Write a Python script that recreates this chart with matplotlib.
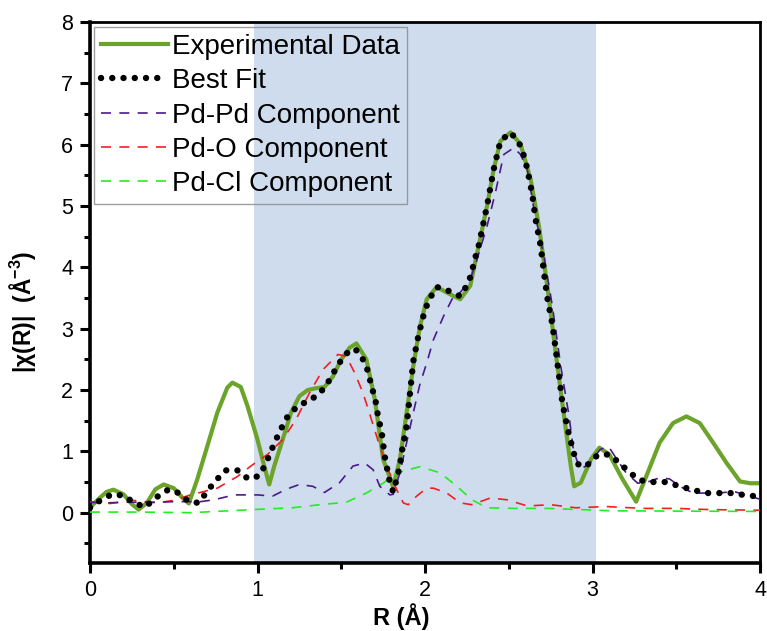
import numpy as np
import matplotlib
matplotlib.use("Agg")
import matplotlib.pyplot as plt
from matplotlib.ticker import MultipleLocator

plt.rcParams['font.family'] = ['Liberation Sans', 'DejaVu Sans']
plt.rcParams['mathtext.fontset'] = 'custom'
plt.rcParams['mathtext.rm'] = 'Liberation Sans'
plt.rcParams['mathtext.bf'] = 'Liberation Sans:bold'
plt.rcParams['mathtext.default'] = 'bf'

# |chi(R)| magnitudes
R_exp = [0.00, 0.05, 0.10, 0.14, 0.20, 0.25, 0.29, 0.34, 0.39, 0.44, 0.50, 0.55, 0.59,
         0.64, 0.70, 0.76, 0.82, 0.85, 0.90, 0.94, 1.00, 1.04, 1.07, 1.10, 1.15, 1.20,
         1.25, 1.30, 1.35, 1.40, 1.45, 1.50, 1.55, 1.59, 1.65, 1.70, 1.75, 1.81, 1.85,
         1.89, 1.93, 1.97, 2.01, 2.07, 2.15, 2.21, 2.27, 2.32, 2.37, 2.41, 2.45, 2.51,
         2.57, 2.63, 2.68, 2.73, 2.78, 2.83, 2.87, 2.89, 2.93, 2.99, 3.04, 3.10, 3.18,
         3.26, 3.32, 3.40, 3.48, 3.56, 3.64, 3.72, 3.80, 3.88, 3.94, 4.00]
chi_exp = [0.08, 0.22, 0.34, 0.375, 0.30, 0.14, 0.05, 0.16, 0.38, 0.46, 0.40, 0.25, 0.15,
           0.54, 1.08, 1.63, 2.04, 2.12, 2.05, 1.74, 1.19, 0.76, 0.46, 0.76, 1.19, 1.63,
           1.90, 2.00, 2.03, 2.05, 2.22, 2.50, 2.69, 2.76, 2.50, 1.85, 0.87, 0.42, 0.87,
           1.63, 2.39, 3.04, 3.48, 3.68, 3.56, 3.48, 3.70, 4.35, 5.00, 5.60, 6.06, 6.20,
           6.01, 5.44, 4.67, 3.69, 2.61, 1.57, 0.76, 0.43, 0.49, 0.87, 1.06, 0.95, 0.54,
           0.18, 0.59, 1.14, 1.46, 1.57, 1.46, 1.14, 0.81, 0.51, 0.48, 0.48]

R_fit = [0.00, 0.05, 0.13, 0.20, 0.265, 0.33, 0.39, 0.47, 0.53, 0.59, 0.65, 0.70, 0.75,
         0.81, 0.88, 0.945, 1.01, 1.05, 1.08, 1.11, 1.145, 1.18, 1.24, 1.31, 1.37, 1.42,
         1.46, 1.50, 1.55, 1.58, 1.61, 1.65, 1.67, 1.69, 1.71, 1.72, 1.74, 1.75, 1.76,
         1.775, 1.79, 1.81, 1.83, 1.85, 1.86, 1.875, 1.89, 1.93, 1.96, 1.98, 2.00, 2.03,
         2.07, 2.13, 2.21, 2.26, 2.28, 2.30, 2.32, 2.37, 2.41, 2.45, 2.51, 2.56, 2.59,
         2.61, 2.64, 2.66, 2.69, 2.71, 2.73, 2.76, 2.78, 2.80, 2.82, 2.85, 2.87, 2.89,
         2.92, 2.97, 3.03, 3.10, 3.16, 3.22, 3.28, 3.36, 3.44, 3.52, 3.59, 3.67, 3.75,
         3.83, 3.90, 4.00]
chi_fit = [0.08, 0.18, 0.30, 0.28, 0.16, 0.09, 0.24, 0.38, 0.32, 0.18, 0.16, 0.35, 0.52,
           0.69, 0.69, 0.55, 0.60, 0.80, 1.00, 1.19, 1.39, 1.57, 1.74, 1.83, 1.94, 2.12,
           2.31, 2.49, 2.65, 2.67, 2.60, 2.39, 2.18, 1.97, 1.76, 1.55, 1.34, 1.12, 0.91,
           0.70, 0.49, 0.34, 0.54, 0.76, 0.97, 1.19, 1.41, 2.47, 2.88, 3.10, 3.31, 3.50,
           3.68, 3.63, 3.53, 3.75, 3.94, 4.16, 4.35, 5.00, 5.60, 6.06, 6.20, 6.04, 5.82,
           5.61, 5.19, 4.78, 4.35, 3.91, 3.50, 3.07, 2.66, 2.23, 1.79, 1.38, 1.16, 0.95,
           0.76, 0.78, 0.94, 0.95, 0.81, 0.66, 0.53, 0.50, 0.50, 0.43, 0.38, 0.32, 0.32,
           0.32, 0.29, 0.26]

R_pdpd = [0.00, 0.10, 0.20, 0.30, 0.40, 0.50, 0.60, 0.66, 0.74, 0.86, 1.00, 1.09, 1.17,
          1.25, 1.33, 1.40, 1.49, 1.57, 1.64, 1.69, 1.73, 1.79, 1.81, 1.85, 1.89, 1.93,
          1.97, 2.01, 2.05, 2.11, 2.17, 2.21, 2.27, 2.31, 2.37, 2.42, 2.47, 2.53, 2.57,
          2.61, 2.65, 2.71, 2.76, 2.81, 2.86, 2.885, 2.925, 2.985, 3.045, 3.095, 3.145,
          3.20, 3.27, 3.34, 3.40, 3.46, 3.52, 3.60, 3.68, 3.76, 3.84, 3.92, 4.00]
chi_pdpd = [0.17, 0.16, 0.17, 0.17, 0.17, 0.18, 0.18, 0.18, 0.21, 0.29, 0.29, 0.27, 0.38,
            0.46, 0.43, 0.33, 0.49, 0.76, 0.81, 0.70, 0.43, 0.29, 0.30, 0.65, 1.14, 1.63,
            2.10, 2.44, 2.82, 3.20, 3.53, 3.59, 3.80, 4.13, 4.67, 5.22, 5.84, 5.95, 5.84,
            5.60, 4.95, 4.18, 3.37, 2.39, 1.57, 1.03, 0.70, 0.81, 1.03, 1.08, 0.87,
            0.65, 0.48, 0.51, 0.57, 0.55, 0.43, 0.32, 0.32, 0.32, 0.35, 0.28, 0.22]

R_pdo = [0.00, 0.12, 0.26, 0.40, 0.50, 0.60, 0.76, 0.88, 0.96, 1.06, 1.15, 1.23, 1.31,
         1.39, 1.48, 1.53, 1.58, 1.63, 1.68, 1.73, 1.78, 1.83, 1.87, 1.90, 1.95, 2.01,
         2.05, 2.13, 2.21, 2.28, 2.39, 2.49, 2.61, 2.75, 2.90, 3.08, 3.30, 3.50, 3.70, 4.00]
chi_pdo = [0.18, 0.15, 0.20, 0.16, 0.20, 0.29, 0.40, 0.59, 0.76, 0.95, 1.19, 1.52, 1.95,
           2.33, 2.58, 2.55, 2.28, 1.95, 1.52, 1.08, 0.70, 0.38, 0.16, 0.13, 0.27, 0.40,
           0.40, 0.32, 0.16, 0.13, 0.24, 0.21, 0.11, 0.13, 0.08, 0.10, 0.07, 0.07, 0.05, 0.04]

R_pdcl = [0.00, 0.30, 0.60, 0.97, 1.21, 1.37, 1.53, 1.65, 1.75, 1.83, 1.97, 2.09, 2.19,
          2.28, 2.37, 2.53, 2.73, 2.93, 3.12, 4.00]
chi_pdcl = [0.01, 0.01, 0.00, 0.05, 0.08, 0.13, 0.17, 0.32, 0.48, 0.65, 0.75, 0.65, 0.43,
            0.21, 0.08, 0.07, 0.07, 0.05, 0.03, 0.02]

fit_window = (0.98, 3.02)

fig = plt.figure(figsize=(7.67, 6.31), dpi=100)
ax = fig.add_axes([0.1173, 0.1078, 0.8737, 0.8573])

ax.axvspan(*fit_window, color='#cfdcee', lw=0, zorder=0)

ax.plot(R_exp, chi_exp, color='#6ba32b', lw=3.0, label='Experimental Data', zorder=2)
ax.plot(R_fit, chi_fit, color='black', lw=4.6, ls=(0, (0.01, 1.75)),
        dash_capstyle='round', label='Best Fit', zorder=5)
ax.plot(R_pdpd, chi_pdpd, color='#4b1a8a', lw=1.2, ls=(0, (6, 5)),
        label='Pd-Pd Component', zorder=4)
ax.plot(R_pdo, chi_pdo, color='#f02020', lw=1.2, ls=(0, (6, 5)),
        label='Pd-O Component', zorder=3)
ax.plot(R_pdcl, chi_pdcl, color='#22ee22', lw=1.2, ls=(0, (6, 5)),
        label='Pd-Cl Component', zorder=3)

ax.set_xlim(0, 4)
ax.set_ylim(-0.82, 8)
ax.xaxis.set_major_locator(MultipleLocator(1))
ax.xaxis.set_minor_locator(MultipleLocator(0.5))
ax.yaxis.set_major_locator(MultipleLocator(1))
ax.yaxis.set_minor_locator(MultipleLocator(0.5))
ax.set_yticks(range(0, 9))

ax.tick_params(which='major', direction='out', length=7, width=2.2, labelsize=15.5, pad=5)
ax.tick_params(which='minor', direction='out', length=4, width=2.2)
for side in ['left', 'bottom']:
    ax.spines[side].set_linewidth(2.6)
for side in ['top', 'right']:
    ax.spines[side].set_linewidth(2.0)

ax.set_xlabel('R (Å)', fontsize=17, fontweight='bold')
ax.xaxis.set_label_coords(0.464, -0.075)
ax.set_ylabel(r'|χ(R)|  (Å$^{-3}$)', fontsize=16.5, fontweight='bold')
ax.yaxis.set_label_coords(-0.078, 0.464)

leg = ax.legend(loc='upper left', bbox_to_anchor=(0.006, 0.991), borderaxespad=0,
                fontsize=20, handlelength=2.4, handletextpad=0.15, labelspacing=0.3,
                borderpad=0.25, fancybox=False, frameon=True)
leg.get_frame().set_facecolor('none')
leg.get_frame().set_edgecolor('#888888')
leg.get_frame().set_linewidth(1.0)

fig.savefig('out.png', dpi=100)
